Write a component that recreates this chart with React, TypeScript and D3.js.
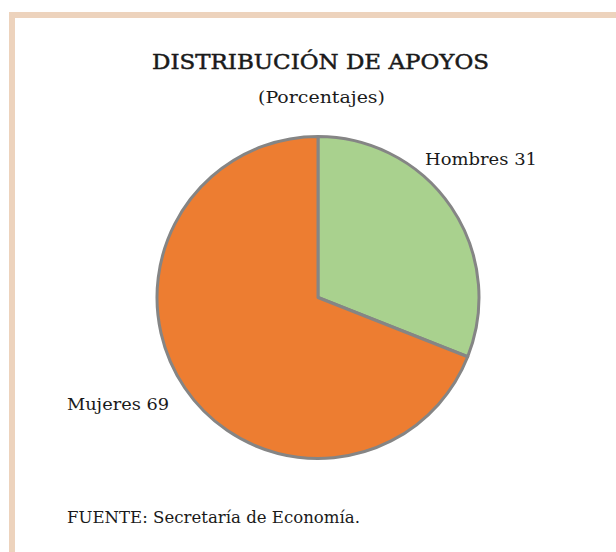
import React, { useEffect, useRef } from 'react';
import * as d3 from 'd3';

// chart data
const categories = ['Hombres', 'Mujeres'];
const values = [31, 69];
const colors = ['#A9D18E', '#ED7D31'];

const title = 'DISTRIBUCIÓN DE APOYOS';
const subtitle = '(Porcentajes)';
const source = 'FUENTE: Secretaría de Economía.';

const W = 616;
const H = 552;
const FONT = '"DejaVu Serif", "Liberation Serif", serif';

export default function App() {
  const ref = useRef<SVGSVGElement>(null);

  useEffect(() => {
    const svg = d3.select(ref.current);
    svg.selectAll('*').remove();

    svg.append('rect').attr('width', W).attr('height', H).attr('fill', '#ffffff');

    // frame (top and left bands only)
    svg.append('rect').attr('x', 9).attr('y', 12).attr('width', W - 9).attr('height', 6).attr('fill', '#EDD3BD');
    svg.append('rect').attr('x', 9).attr('y', 12).attr('width', 6).attr('height', H - 12).attr('fill', '#EDD3BD');

    svg.append('text')
      .attr('x', 152).attr('y', 69)
      .attr('font-family', FONT)
      .attr('font-size', 21)
      .attr('textLength', 337)
      .attr('lengthAdjust', 'spacingAndGlyphs')
      .attr('fill', '#1a1a1a')
      .attr('stroke', '#1a1a1a')
      .attr('stroke-width', 0.5)
      .text(title);

    svg.append('text')
      .attr('x', 258).attr('y', 103)
      .attr('font-family', FONT)
      .attr('font-size', 17)
      .attr('textLength', 127)
      .attr('lengthAdjust', 'spacingAndGlyphs')
      .attr('fill', '#1a1a1a')
      .text(subtitle);

    const data = categories.map((c, i) => ({ name: c, value: values[i], color: colors[i] }));
    const cx = 318;
    const cy = 297.5;
    const r = 161;

    const pie = d3.pie<any>().sort(null).value((d: any) => d.value);
    const arc = d3.arc<any>().innerRadius(0).outerRadius(r);

    const g = svg.append('g').attr('transform', `translate(${cx},${cy})`);
    g.selectAll('path')
      .data(pie(data))
      .enter().append('path')
      .attr('d', arc as any)
      .attr('fill', (d: any) => d.data.color)
      .attr('stroke', '#858585')
      .attr('stroke-width', 3)
      .attr('stroke-linejoin', 'round');

    const labels = [
      { x: 425, y: 165, w: 112 },
      { x: 67, y: 410, w: 102 },
    ];
    svg.selectAll('text.lbl')
      .data(data)
      .enter().append('text')
      .attr('class', 'lbl')
      .attr('x', (d, i) => labels[i].x)
      .attr('y', (d, i) => labels[i].y)
      .attr('textLength', (d, i) => labels[i].w)
      .attr('lengthAdjust', 'spacingAndGlyphs')
      .attr('font-family', FONT)
      .attr('font-size', 17)
      .attr('fill', '#1a1a1a')
      .text((d: any) => `${d.name} ${d.value}`);

    svg.append('text')
      .attr('x', 67).attr('y', 523)
      .attr('font-family', FONT)
      .attr('font-size', 17)
      .attr('textLength', 293)
      .attr('lengthAdjust', 'spacingAndGlyphs')
      .attr('fill', '#1a1a1a')
      .text(source);
  }, []);

  return (
    <div style={{ position: 'absolute', left: 0, top: 0 }}>
      <svg ref={ref} width={W} height={H} style={{ display: 'block' }} />
    </div>
  );
}
